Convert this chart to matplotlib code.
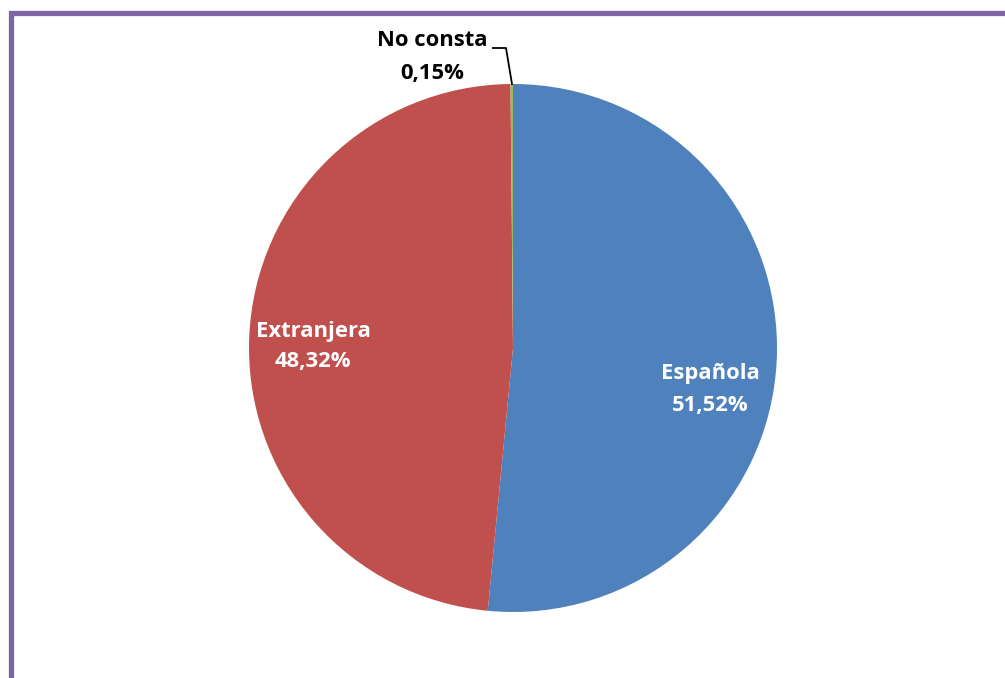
import matplotlib
matplotlib.use("Agg")
import matplotlib.pyplot as plt
from matplotlib.patches import Rectangle

categories = ["Española", "Extranjera", "No consta"]
values = [51.52, 48.32, 0.15]
pct_labels = ["51,52%", "48,32%", "0,15%"]
colors = ["#4F81BD", "#C0504D", "#9BBB59"]

W, H = 1005, 678
fig = plt.figure(figsize=(W / 100, H / 100), dpi=100)
ax = fig.add_axes([0, 0, 1, 1])

# purple frame (extends beyond right/bottom)
frame = Rectangle((10.5, -50), 1100, H - 12.5 + 50, fill=False,
                  edgecolor="#8064A2", linewidth=3.8)
ax.add_patch(frame)

cx, cy, r = 513, H - 348, 264
ax.pie(values, colors=colors, startangle=90, counterclock=False,
       center=(cx, cy), radius=r, wedgeprops=dict(linewidth=0),
       frame=True)
ax.set_xlim(0, W)
ax.set_ylim(0, H)
ax.set_aspect("equal")
ax.axis("off")

font = dict(family=["Open Sans", "DejaVu Sans"], fontweight="bold", fontsize=15.8)
ax.text(710, H - 373, categories[0], color="white", ha="center", va="center", **font)
ax.text(710, H - 405, pct_labels[0], color="white", ha="center", va="center", **font)
ax.text(313, H - 331, categories[1], color="white", ha="center", va="center", **font)
ax.text(313, H - 362, pct_labels[1], color="white", ha="center", va="center", **font)
ax.text(432, H - 41, categories[2], color="black", ha="center", va="center", **font)
ax.text(432, H - 73, pct_labels[2], color="black", ha="center", va="center", **font)

# leader line
ax.plot([493, 506, 512], [H - 48, H - 48, H - 84], color="black", linewidth=1.3)

fig.savefig("out.png", dpi=100)
